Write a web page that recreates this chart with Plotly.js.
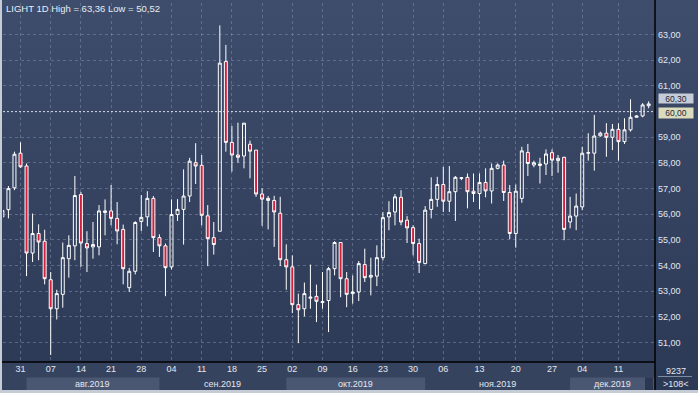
<!DOCTYPE html>
<html><head><meta charset="utf-8">
<script src="https://cdn.plot.ly/plotly-3.0.1.min.js"></script>
<style>
html,body{margin:0;padding:0;background:#c6ccd6;}
#wrap{position:relative;width:698px;height:393px;overflow:hidden;}
#bg{position:absolute;left:2px;top:0;width:696px;height:390px;background:linear-gradient(#3e4d6c,#2c3955);}
#chart{position:absolute;left:0;top:0;width:698px;height:393px;}
</style></head><body>
<div id="wrap"><div id="bg"></div><div id="chart"></div></div>
<script>
const dates = [
'2019-07-26','2019-07-29','2019-07-30','2019-07-31','2019-08-01','2019-08-02',
'2019-08-05','2019-08-06','2019-08-07','2019-08-08','2019-08-09',
'2019-08-12','2019-08-13','2019-08-14','2019-08-15','2019-08-16',
'2019-08-19','2019-08-20','2019-08-21','2019-08-22','2019-08-23',
'2019-08-26','2019-08-27','2019-08-28','2019-08-29','2019-08-30',
'2019-09-02','2019-09-03','2019-09-04','2019-09-05','2019-09-06',
'2019-09-09','2019-09-10','2019-09-11','2019-09-12','2019-09-13',
'2019-09-16','2019-09-17','2019-09-18','2019-09-19','2019-09-20',
'2019-09-23','2019-09-24','2019-09-25','2019-09-26','2019-09-27',
'2019-09-30','2019-10-01','2019-10-02','2019-10-03','2019-10-04',
'2019-10-07','2019-10-08','2019-10-09','2019-10-10','2019-10-11',
'2019-10-14','2019-10-15','2019-10-16','2019-10-17','2019-10-18',
'2019-10-21','2019-10-22','2019-10-23','2019-10-24','2019-10-25',
'2019-10-28','2019-10-29','2019-10-30','2019-10-31','2019-11-01',
'2019-11-04','2019-11-05','2019-11-06','2019-11-07','2019-11-08','2019-11-10',
'2019-11-11','2019-11-12','2019-11-13','2019-11-14','2019-11-15','2019-11-17',
'2019-11-18','2019-11-19','2019-11-20','2019-11-21','2019-11-22','2019-11-24',
'2019-11-25','2019-11-26','2019-11-27','2019-11-28','2019-11-29',
'2019-12-02','2019-12-03','2019-12-04','2019-12-05','2019-12-06','2019-12-08',
'2019-12-09','2019-12-10','2019-12-11','2019-12-12','2019-12-13','2019-12-15',
'2019-12-16','2019-12-17'];

const openP = [
55.90,56.18,57.03,58.38,57.88,54.49,
55.25,54.95,53.45,52.32,52.88,
54.27,54.77,56.77,54.86,54.73,
54.73,56.07,56.13,55.84,55.41,
53.14,53.78,55.72,55.90,56.62,
55.09,54.77,53.95,55.99,56.19,
56.71,58.01,57.91,55.94,55.09,
55.34,61.95,58.80,58.31,58.27,
58.73,58.50,56.79,56.62,56.54,
56.04,54.23,53.95,52.48,52.32,
52.73,52.80,52.56,52.64,53.88,
54.90,53.49,52.91,52.97,54.04,
53.55,53.59,54.31,55.90,56.09,
56.66,55.77,55.48,54.86,54.08,
56.19,56.58,57.16,56.51,56.88,57.40,
57.44,56.90,56.81,57.24,56.91,57.79,
57.92,56.85,55.25,56.62,58.41,57.92,
57.90,57.96,58.40,58.09,58.22,
55.70,55.93,56.29,58.38,58.38,59.06,
59.16,59.00,59.31,58.83,59.29,59.78,
59.83,60.23];

const highP = [
56.20,57.10,58.44,58.80,57.98,56.03,
55.61,55.40,53.75,53.06,54.90,
55.18,57.49,56.87,55.34,55.70,
56.36,56.58,57.14,56.48,55.60,
53.91,55.73,56.75,56.90,56.71,
55.22,54.86,56.58,56.59,57.75,
58.20,58.77,58.31,56.36,55.70,
63.36,62.60,59.44,59.57,59.55,
58.87,58.50,57.01,56.71,56.72,
56.68,54.83,54.40,52.91,53.34,
54.04,53.26,53.75,53.95,54.95,
54.92,53.75,53.62,54.18,54.66,
54.31,54.79,56.09,56.51,56.79,
56.94,55.93,55.57,55.05,56.32,
57.44,57.46,57.85,57.88,57.49,57.44,
57.59,57.59,57.59,57.79,57.98,57.98,
58.09,57.14,57.16,58.63,58.74,58.09,
58.20,58.53,58.53,58.31,58.24,
56.68,56.81,58.63,59.16,59.87,59.22,
59.55,59.52,59.55,59.74,60.48,59.86,
60.33,60.40];

const lowP = [
55.80,55.84,56.94,57.81,53.59,54.14,
54.21,53.27,50.52,51.90,52.36,
53.53,54.21,53.95,53.75,54.27,
54.40,55.18,55.57,54.83,53.27,
52.97,53.66,55.35,55.53,54.53,
54.34,52.81,53.85,55.74,54.82,
56.48,57.18,55.57,53.98,54.43,
55.34,58.44,57.66,58.01,57.79,
57.40,56.68,55.55,55.41,54.73,
53.98,53.06,52.15,50.98,52.02,
52.32,51.80,52.32,51.41,53.62,
52.77,52.38,52.52,52.62,53.36,
52.84,53.20,54.20,55.38,55.57,
55.57,54.88,54.40,53.71,54.05,
55.84,56.29,56.09,56.09,55.74,57.33,
56.23,56.48,56.20,56.66,56.42,57.75,
56.52,55.03,54.70,56.45,57.49,57.83,
57.20,57.53,57.49,57.62,54.99,
55.45,55.38,56.16,58.09,57.70,59.02,
58.24,58.50,58.09,58.74,59.22,59.76,
59.78,60.13];

const closeP = [
56.15,57.00,58.34,57.85,54.49,55.25,
54.92,53.49,52.32,52.91,54.31,
54.79,56.73,54.88,54.69,54.82,
56.13,56.13,55.84,55.35,53.88,
53.78,55.68,55.88,56.62,55.09,
54.77,53.92,55.99,56.19,56.71,
58.07,57.88,55.96,55.05,54.82,
61.89,58.80,58.31,58.22,59.55,
58.46,56.79,56.59,56.54,56.09,
54.23,53.95,52.48,52.28,52.91,
52.77,52.61,52.60,53.88,54.90,
53.49,52.88,52.97,54.08,53.53,
53.62,54.31,55.87,56.07,56.68,
55.70,55.47,54.86,54.12,56.16,
56.58,57.16,56.51,56.88,57.44,57.42,
56.88,56.81,57.24,56.91,57.79,57.92,
56.85,55.25,56.90,58.47,57.98,58.01,
57.96,58.35,58.11,58.18,55.41,
55.93,56.32,58.38,58.40,59.05,59.16,
59.00,59.31,58.83,59.29,59.78,59.83,
60.26,60.30];

const tickDates = ['2019-07-31','2019-08-07','2019-08-14','2019-08-21','2019-08-28',
'2019-09-04','2019-09-11','2019-09-18','2019-09-25','2019-10-02','2019-10-09',
'2019-10-16','2019-10-23','2019-10-30','2019-11-06','2019-11-13','2019-11-20',
'2019-11-27','2019-12-04','2019-12-11'];
const tickText = ['31','07','14','21','28','04','11','18','25','02','09',
'16','23','30','06','13','20','27','04','11'];

// 60,00 is shown by the level tag that covers the axis label
const priceTicks = [51,52,53,54,55,56,57,58,59,61,62,63];
const priceTickText = ['51,00','52,00','53,00','54,00','55,00','56,00','57,00',
'58,00','59,00','61,00','62,00','63,00'];

const monthNames = ['авг.2019','сен.2019','окт.2019','ноя.2019','дек.2019'];
const monthStarts = ['2019-08-01','2019-09-02','2019-10-01','2019-11-01','2019-12-02'];

const titleText = 'LIGHT 1D High = 63,36 Low = 50,52';
const lastPrice = 60.30;
const levelPrice = 60.00;
const volumeText = '9237';
const barsText = '>108<';

const X_RANGE = [0.103, 108.05];
const Y_RANGE = [50.245, 64.232];
const FONT = 'Liberation Sans, Arial, sans-serif';
const TXT = '#e2e7f0';
const GRID = 'rgba(125,140,170,0.55)';

// paper y for a pixel row (plot from y=3 to y=362)
const py = Y => (362 - Y) / 359;
const px = X => (X - 3) / 652;

const shapes = [];
const annotations = [];

// bottom axis strip
shapes.push({type:'rect', xref:'paper', yref:'paper', x0:px(2), x1:1, y0:py(362), y1:py(390),
  fillcolor:'#36435e', line:{width:0}, layer:'below'});
// month bands (alternating) + labels
for (let m = 0; m < monthNames.length; m++) {
  const i0 = dates.indexOf(monthStarts[m]);
  const i1 = m + 1 < monthStarts.length ? dates.indexOf(monthStarts[m + 1]) : X_RANGE[1];
  if (m % 2 === 0) {
    shapes.push({type:'rect', xref:'x', yref:'paper', x0:i0, x1:i1, y0:py(377.5), y1:py(390),
      fillcolor:'#4a5772', line:{width:0}, layer:'below'});
  }
  annotations.push({xref:'x', yref:'paper', x:(i0 + i1) / 2, y:py(383.5), text:monthNames[m],
    showarrow:false, xanchor:'center', yanchor:'middle', font:{family:FONT, size:9, color:TXT}});
}
// dark box at bottom right of the time strip
shapes.push({type:'rect', xref:'paper', yref:'paper', x0:px(645), x1:px(653), y0:py(377.5), y1:py(390),
  fillcolor:'#2c3852', line:{width:0}, layer:'below'});
// right axis vertical line, full height
shapes.push({type:'line', xref:'paper', yref:'paper', x0:1, x1:1, y0:py(0), y1:py(390),
  line:{color:'#000000', width:1.5}});
// horizontal line under plot
shapes.push({type:'line', xref:'paper', yref:'paper', x0:px(2), x1:1, y0:0, y1:0,
  line:{color:'#000000', width:1.5}});
// level line
shapes.push({type:'line', xref:'paper', yref:'y', x0:0, x1:1, y0:levelPrice, y1:levelPrice,
  line:{color:'rgba(235,238,245,0.9)', width:1, dash:'2px,2px'}});
// separator in bottom right box
shapes.push({type:'line', xref:'paper', yref:'paper', x0:px(658), x1:px(692), y0:py(376.5), y1:py(376.5),
  line:{color:'#7d8aa3', width:1}});

// title
annotations.push({xref:'paper', yref:'paper', x:px(4), y:py(8), text:titleText, showarrow:false,
  xanchor:'left', yanchor:'middle', font:{family:FONT, size:9.5, color:'#e8ecf3'}});
// price tags
annotations.push({xref:'paper', yref:'y', x:1, xshift:3, y:lastPrice, yshift:5, text:lastPrice.toFixed(2).replace('.', ','),
  showarrow:false, xanchor:'left', yanchor:'middle', bgcolor:'#c6cbd8', width:34, height:9, borderpad:0,
  font:{family:FONT, size:8.5, color:'#1d2536'}});
annotations.push({xref:'paper', yref:'y', x:1, xshift:3, y:levelPrice, yshift:-1, text:levelPrice.toFixed(2).replace('.', ','),
  showarrow:false, xanchor:'left', yanchor:'middle', bgcolor:'#dcdcbc', width:34, height:10, borderpad:0,
  font:{family:FONT, size:8.5, color:'#1d2536'}});
// bottom-right info
annotations.push({xref:'paper', yref:'paper', x:px(676), y:py(370.5), text:volumeText, showarrow:false,
  xanchor:'center', yanchor:'middle', font:{family:FONT, size:9, color:TXT}});
annotations.push({xref:'paper', yref:'paper', x:px(676), y:py(383.5), text:barsText, showarrow:false,
  xanchor:'center', yanchor:'middle', font:{family:FONT, size:9, color:TXT}});

const trace = {
  type:'candlestick', x:dates, open:openP, high:highP, low:lowP, close:closeP,
  increasing:{line:{color:'#ffffff', width:1}, fillcolor:'rgba(0,0,0,0)'},
  decreasing:{line:{color:'#ffffff', width:1}, fillcolor:'#d11f3d'},
  whiskerwidth:0, hoverinfo:'skip', showlegend:false
};

const layout = {
  width:698, height:393,
  margin:{l:3, r:43, t:3, b:31, pad:0},
  paper_bgcolor:'rgba(0,0,0,0)', plot_bgcolor:'rgba(0,0,0,0)',
  showlegend:false,
  font:{family:FONT, size:9, color:TXT},
  xaxis:{type:'category', range:X_RANGE, rangeslider:{visible:false}, tickmode:'array',
    tickvals:tickDates, ticktext:tickText, showgrid:true, gridcolor:GRID, griddash:'3px,3px', gridwidth:1,
    showline:false, ticks:'', tickfont:{family:FONT, size:9, color:TXT}, zeroline:false, fixedrange:true},
  yaxis:{side:'right', range:Y_RANGE, tickmode:'array', tickvals:priceTicks, ticktext:priceTickText,
    showgrid:true, gridcolor:GRID, griddash:'3px,3px', gridwidth:1, showline:false, ticks:'',
    ticklabelstandoff:2, tickfont:{family:FONT, size:9, color:TXT}, zeroline:false, fixedrange:true},
  shapes:shapes, annotations:annotations
};

Plotly.newPlot('chart', [trace], layout, {displayModeBar:false, staticPlot:true});
</script></body></html>
